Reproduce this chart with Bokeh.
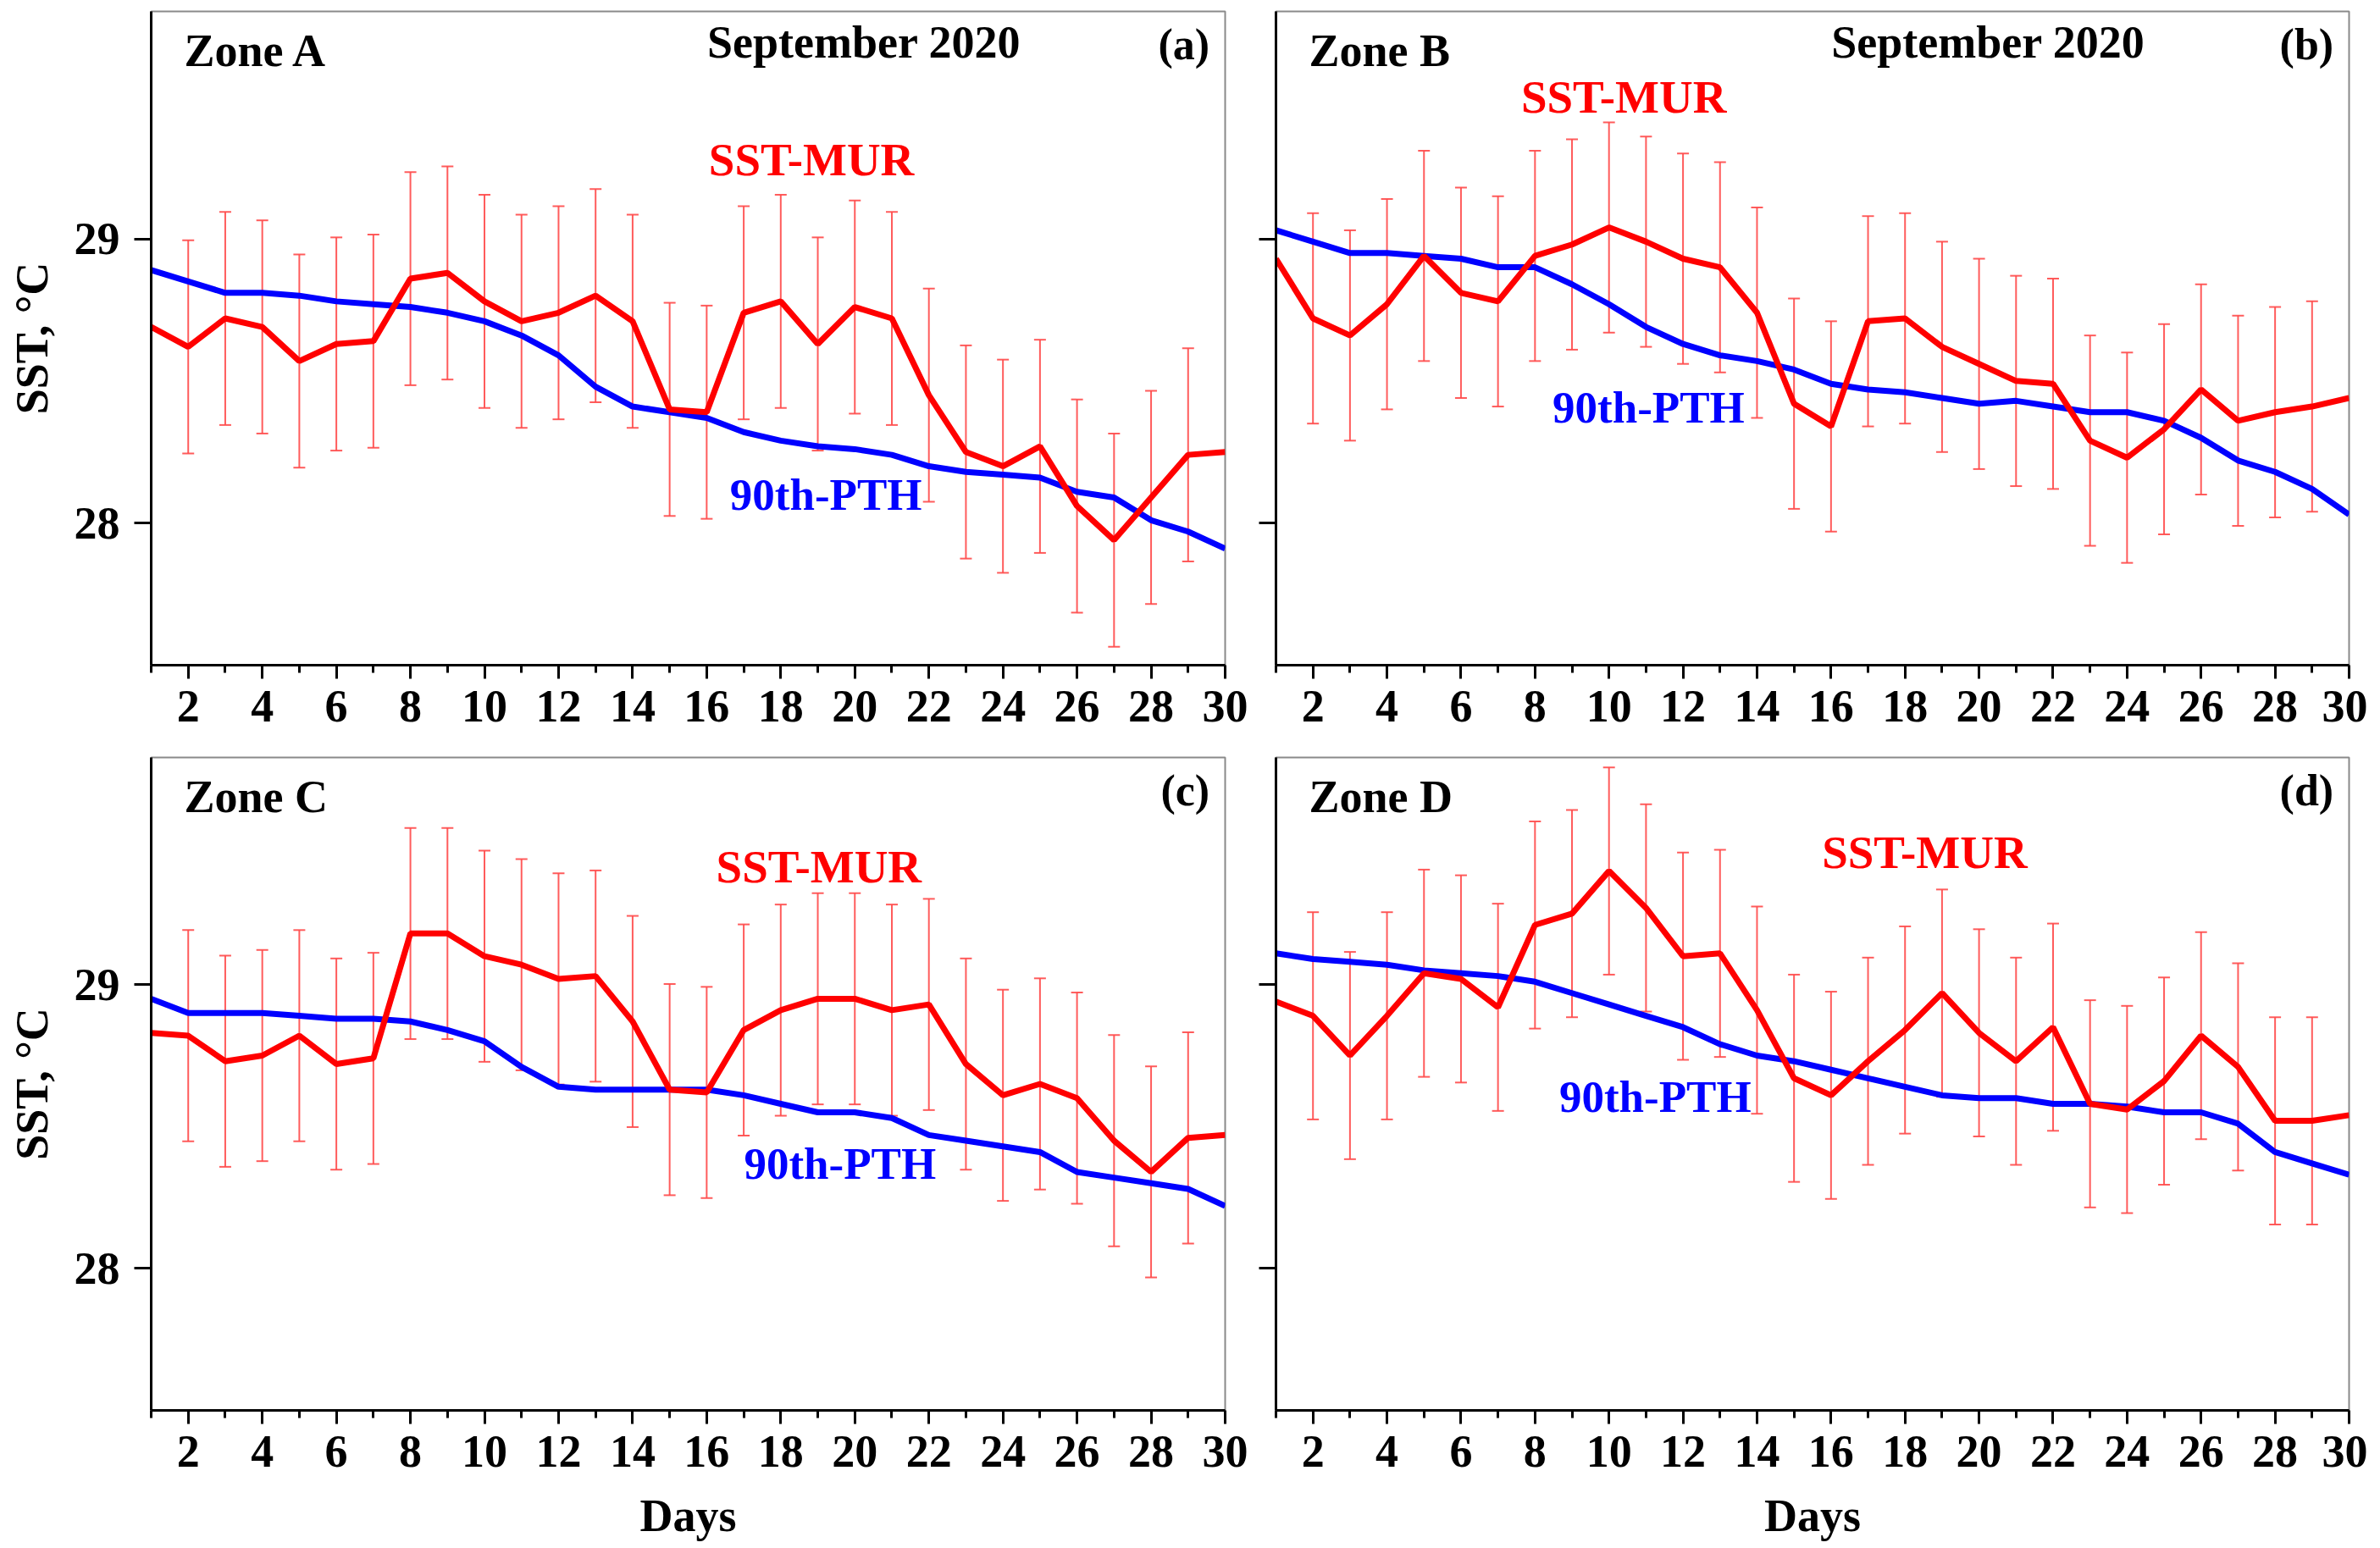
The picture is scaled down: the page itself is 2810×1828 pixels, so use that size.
from bokeh.plotting import figure
from bokeh.models import ColumnDataSource, Whisker, TeeHead, FixedTicker, Label, Range1d
from bokeh.layouts import column, row
from bokeh.embed import file_html
from bokeh.resources import INLINE

# ---------------- data ----------------
days = list(range(1, 31))
x_major = list(range(2, 31, 2))
x_minor = list(range(1, 30, 2))
y_ticks = [28, 29]

sst_a = [28.69, 28.62, 28.72, 28.69, 28.57, 28.63, 28.64, 28.86, 28.88, 28.78,
         28.71, 28.74, 28.80, 28.71, 28.40, 28.39, 28.74, 28.78, 28.63, 28.76,
         28.72, 28.45, 28.25, 28.20, 28.27, 28.06, 27.94, 28.09, 28.24, 28.25]
pth_a = [28.89, 28.85, 28.81, 28.81, 28.80, 28.78, 28.77, 28.76, 28.74, 28.71,
         28.66, 28.59, 28.48, 28.41, 28.39, 28.37, 28.32, 28.29, 28.27, 28.26,
         28.24, 28.20, 28.18, 28.17, 28.16, 28.11, 28.09, 28.01, 27.97, 27.91]

sst_b = [28.93, 28.72, 28.66, 28.77, 28.94, 28.81, 28.78, 28.94, 28.98, 29.04,
         28.99, 28.93, 28.90, 28.74, 28.42, 28.34, 28.71, 28.72, 28.62, 28.56,
         28.50, 28.49, 28.29, 28.23, 28.33, 28.47, 28.36, 28.39, 28.41, 28.44]
pth_b = [29.03, 28.99, 28.95, 28.95, 28.94, 28.93, 28.90, 28.90, 28.84, 28.77,
         28.69, 28.63, 28.59, 28.57, 28.54, 28.49, 28.47, 28.46, 28.44, 28.42,
         28.43, 28.41, 28.39, 28.39, 28.36, 28.30, 28.22, 28.18, 28.12, 28.03]

sst_c = [28.83, 28.82, 28.73, 28.75, 28.82, 28.72, 28.74, 29.18, 29.18, 29.10,
         29.07, 29.02, 29.03, 28.87, 28.63, 28.62, 28.84, 28.91, 28.95, 28.95,
         28.91, 28.93, 28.72, 28.61, 28.65, 28.60, 28.45, 28.34, 28.46, 28.47]
pth_c = [28.95, 28.90, 28.90, 28.90, 28.89, 28.88, 28.88, 28.87, 28.84, 28.80,
         28.71, 28.64, 28.63, 28.63, 28.63, 28.63, 28.61, 28.58, 28.55, 28.55,
         28.53, 28.47, 28.45, 28.43, 28.41, 28.34, 28.32, 28.30, 28.28, 28.22]

sst_d = [28.94, 28.89, 28.75, 28.89, 29.04, 29.02, 28.92, 29.21, 29.25, 29.40,
         29.27, 29.10, 29.11, 28.91, 28.67, 28.61, 28.73, 28.84, 28.97, 28.83,
         28.73, 28.85, 28.58, 28.56, 28.66, 28.82, 28.71, 28.52, 28.52, 28.54]
pth_d = [29.11, 29.09, 29.08, 29.07, 29.05, 29.04, 29.03, 29.01, 28.97, 28.93,
         28.89, 28.85, 28.79, 28.75, 28.73, 28.70, 28.67, 28.64, 28.61, 28.60,
         28.60, 28.58, 28.58, 28.57, 28.55, 28.55, 28.51, 28.41, 28.37, 28.33]

# half-width of the error bars (one value per zone)
err_a = 0.375
err_b = 0.37
err_c = 0.372
err_d = 0.365

zones = ["Zone A", "Zone B", "Zone C", "Zone D"]
tags = ["(a)", "(b)", "(c)", "(d)"]
month_label = "September 2020"
mur_label = "SST-MUR"
pth_label = "90th-PTH"

FONT = "Liberation Serif"
RED = "#ff0000"
ERRC = "#ff4a4a"
BLUE = "#0000ff"


def make_panel(zone, tag, sst, pth, err, left_col, bottom_row, show_month,
               mur_xy, pth_xy):
    fw = 1268 if left_col else 1267
    fh = 772 if not bottom_row else 771
    p = figure(frame_width=fw, frame_height=fh,
               x_range=Range1d(1, 30), y_range=Range1d(27.5, 29.8),
               output_backend="svg", toolbar_location=None, tools="",
               min_border_left=178 if left_col else 30,
               min_border_right=30 if left_col else 22,
               min_border_top=14 if bottom_row else 13,
               min_border_bottom=150 if bottom_row else 95,
               background_fill_color="white", border_fill_color="white")
    p.outline_line_color = "#8a8a8a"
    p.outline_line_width = 2
    p.xgrid.visible = False
    p.ygrid.visible = False

    # axes
    p.xaxis.ticker = FixedTicker(ticks=x_major, minor_ticks=x_minor)
    p.yaxis.ticker = FixedTicker(ticks=y_ticks, minor_ticks=[])
    for ax in (p.xaxis, p.yaxis):
        ax.axis_line_color = "black"
        ax.axis_line_width = 3
        ax.major_tick_line_color = "black"
        ax.major_tick_line_width = 3
        ax.minor_tick_line_color = "black"
        ax.minor_tick_line_width = 3
        ax.major_tick_in = 0
        ax.minor_tick_in = 0
        ax.major_label_text_font = FONT
        ax.major_label_text_font_style = "bold"
        ax.major_label_text_font_size = "54px"
        ax.major_label_text_color = "black"
        ax.axis_label_text_font = FONT
        ax.axis_label_text_font_style = "bold"
        ax.axis_label_text_font_size = "54px"
        ax.axis_label_text_color = "black"
    p.xaxis.major_tick_out = 16
    p.xaxis.minor_tick_out = 9
    p.xaxis.major_label_standoff = 14
    p.yaxis.major_tick_out = 20
    p.yaxis.minor_tick_out = 0
    p.yaxis.major_label_standoff = 17

    if left_col:
        p.yaxis.axis_label = "SST, \u00b0C"
        p.yaxis.axis_label_standoff = 17
    else:
        p.yaxis.major_label_overrides = {t: "" for t in y_ticks}
    if bottom_row:
        p.xaxis.axis_label = "Days"
        p.xaxis.axis_label_standoff = 25

    # error bars (the bars at the two frame edges are hidden in the original)
    inner = slice(1, len(days) - 1)
    src = ColumnDataSource(data=dict(
        x=days[inner],
        lower=[v - err for v in sst[inner]],
        upper=[v + err for v in sst[inner]],
    ))
    wh = Whisker(base="x", lower="lower", upper="upper", source=src,
                 line_color=ERRC, line_width=2, line_alpha=0.9,
                 upper_head=TeeHead(size=14, line_color=ERRC, line_width=2, line_alpha=0.9),
                 lower_head=TeeHead(size=14, line_color=ERRC, line_width=2, line_alpha=0.9))
    p.add_layout(wh)

    # lines
    p.line(days, pth, line_color=BLUE, line_width=7)
    p.line(days, sst, line_color=RED, line_width=7)

    def lab(x, y, text, color="black", align="left", size="54px"):
        p.add_layout(Label(x=x, y=y, text=text, text_font=FONT,
                           text_font_style="bold", text_font_size=size,
                           text_color=color, text_align=align,
                           text_baseline="alphabetic"))

    lab(1.89, 29.66, zone)
    lab(29.58, 29.685, tag, align="right", size="52px")
    if show_month:
        lab(20.25, 29.69, month_label, align="center", size="54px")
    lab(mur_xy[0], mur_xy[1] + 0.04, mur_label, color=RED, align="center", size="55px")
    lab(pth_xy[0], pth_xy[1] + 0.04, pth_label, color=BLUE, align="center", size="53px")
    return p


pa = make_panel(zones[0], tags[0], sst_a, pth_a, err_a, True, False, True,
                (18.83, 29.24), (19.22, 28.06))
pb = make_panel(zones[1], tags[1], sst_b, pth_b, err_b, False, False, True,
                (10.4, 29.46), (11.07, 28.367))
pc = make_panel(zones[2], tags[2], sst_c, pth_c, err_c, True, True, False,
                (19.03, 29.376), (19.6, 28.33))
pd_ = make_panel(zones[3], tags[3], sst_d, pth_d, err_d, False, True, False,
                 (18.53, 29.427), (11.25, 28.565))

layout = column(row(pa, pb), row(pc, pd_))

open("out.html", "w").write(file_html(layout, INLINE))
